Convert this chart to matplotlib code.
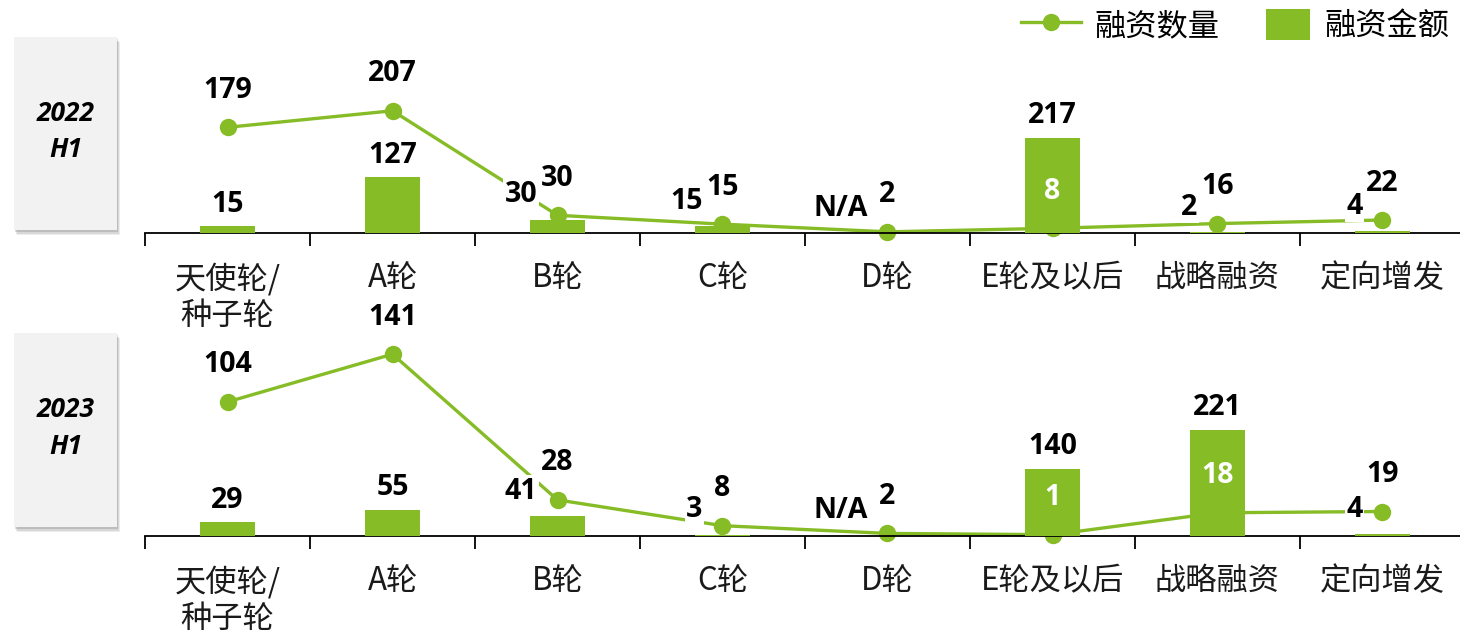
import numpy as np
import matplotlib
matplotlib.use('Agg')
import matplotlib.pyplot as plt
from matplotlib.lines import Line2D
from matplotlib.patches import Patch, Rectangle
from matplotlib.legend_handler import HandlerPatch

plt.rcParams['font.family'] = ['Noto Sans CJK SC', 'DejaVu Sans']

# --- 数据 ---
categories = ['天使轮/\n种子轮', 'A轮', 'B轮', 'C轮', 'D轮', 'E轮及以后', '战略融资', '定向增发']
periods = ['2022\nH1', '2023\nH1']
amount_2022 = [15, 127, 30, 15, np.nan, 217, 2, 4]     # 融资金额 (N/A = nan)
count_2022 = [179, 207, 30, 15, 2, 8, 16, 22]         # 融资数量
amount_2023 = [29, 55, 41, 3, np.nan, 140, 221, 4]
count_2023 = [104, 141, 28, 8, 2, 1, 18, 19]

# --- 样式/布局 ---
GREEN = '#86BC25'
NUM_FONT = ['Open Sans', 'DejaVu Sans']
NUM_SIZE = 20.5
bar_label_mode = [
    ['top', 'top', 'left', 'left', 'left', 'top', 'left', 'left'],
    ['top', 'top', 'left', 'left', 'left', 'top', 'top', 'left'],
]
# 每个面板: (底部, 高度, 金额轴上限, 数量轴上限) —— 图形坐标
panels = [
    (401 / 634, 173 / 634, 395, 293),
    (98 / 634, 196 / 634, 408, 152),
]
year_boxes = [(14, 37, 103, 193), (14, 333, 103, 194)]  # 像素: x, top, w, h

W, H = 1460, 634
fig = plt.figure(figsize=(W / 100, H / 100), dpi=100)

amounts = [amount_2022, amount_2023]
counts = [count_2022, count_2023]
x = np.arange(len(categories))

for p, (bottom, height, ymax_bar, ymax_line) in enumerate(panels):
    ax_l = fig.add_axes([145 / W, bottom, 1320 / W, height])
    ax_b = ax_l.twinx()

    ax_l.plot(x, counts[p], color=GREEN, lw=2.4, marker='o', ms=11.5,
              clip_on=False, zorder=2)
    amt = np.array(amounts[p], dtype=float)
    ax_b.bar(x, np.nan_to_num(amt), width=0.33, color=GREEN, zorder=2)

    for a in (ax_l, ax_b):
        a.set_xlim(-0.5, len(categories) - 0.5)
        for s in ('top', 'left', 'right'):
            a.spines[s].set_visible(False)
        a.set_yticks([])
        a.patch.set_visible(False)
    ax_l.set_ylim(0, ymax_line)
    ax_b.set_ylim(0, ymax_bar)
    ax_b.spines['bottom'].set_visible(False)
    ax_l.spines['bottom'].set_linewidth(1.3)
    ax_l.spines['bottom'].set_color('black')

    ax_l.set_xticks(x)
    ax_l.set_xticklabels(categories, fontsize=22.5, color='#1a1a1a', linespacing=1.2,
                         va='top')
    ax_l.tick_params(axis='x', which='major', length=0, pad=21)
    ax_l.set_xticks(np.arange(-0.5, len(categories)), minor=True)
    ax_l.tick_params(axis='x', which='minor', length=9, width=1.3, color='black',
                     direction='out')

    fig.canvas.draw()
    # 数值标签
    for i in range(len(categories)):
        # 数量标签 (折线)
        pt = ax_l.transData.transform((x[i], counts[p][i]))
        bar_top = ax_b.transData.transform((x[i], np.nan_to_num(amt[i])))[1]
        inside = (not np.isnan(amt[i])) and pt[1] + 37 < bar_top
        ax_b.annotate(str(counts[p][i]), xy=(x[i], counts[p][i]),
                      xycoords=ax_l.transData, xytext=(0, 37),
                      textcoords='offset pixels', ha='center', va='center',
                      fontsize=NUM_SIZE, fontweight='bold', family=NUM_FONT,
                      color='white' if inside else 'black', zorder=5,
                      annotation_clip=False)
        # 金额标签 (柱)
        txt = 'N/A' if np.isnan(amt[i]) else f'{int(amt[i])}'
        yv = np.nan_to_num(amt[i])
        if bar_label_mode[p][i] == 'top':
            ax_b.annotate(txt, xy=(x[i], yv), xytext=(0, 22),
                          textcoords='offset pixels', ha='center', va='center',
                          fontsize=NUM_SIZE, fontweight='bold', family=NUM_FONT,
                          color='black', zorder=5, annotation_clip=False)
        else:
            ax_b.annotate(txt, xy=(x[i], yv), xytext=(-20, 25),
                          textcoords='offset pixels', ha='right', va='center',
                          fontsize=NUM_SIZE, fontweight='bold', family=NUM_FONT,
                          color='black', zorder=5, annotation_clip=False,
                          bbox=dict(boxstyle='square,pad=0.05', fc='white',
                                    ec='none'))

# 左侧年份框 (带阴影)
for (bx, by, bw, bh), label in zip(year_boxes, periods):
    for k, al in enumerate([0.10, 0.14, 0.20]):
        off = 5 - k * 1.5
        fig.patches.append(Rectangle(((bx + off * 0.6) / W, (H - by - bh - off) / H),
                                     bw / W, bh / H, transform=fig.transFigure,
                                     fc='#555555', ec='none', alpha=al, zorder=0))
    fig.patches.append(Rectangle((bx / W, (H - by - bh) / H), bw / W, bh / H,
                                 transform=fig.transFigure, fc='#f2f2f2',
                                 ec='none', zorder=1))
    fig.text((bx + bw / 2) / W, (H - by - bh / 2 + 2) / H, label, ha='center',
             va='center', fontsize=19, fontweight='bold', style='italic',
             family=NUM_FONT, linespacing=1.45, zorder=2)


# 图例: 金额方块比折线手柄窄
def square_patch(legend, orig_handle, xdescent, ydescent, width, height, fontsize):
    w = width * 0.74
    return Rectangle((-xdescent + (width - w), -ydescent), w, height)


handles = [
    Line2D([], [], color=GREEN, lw=2.4, marker='o', ms=11.5),
    Patch(facecolor=GREEN, edgecolor='none'),
]
fig.legend(handles, ['融资数量', '融资金额'], loc='upper right',
           bbox_to_anchor=(1.012, 1.03), ncol=2, frameon=False, fontsize=22.5,
           handlelength=1.9, handleheight=1.15, handletextpad=0.45,
           columnspacing=1.0,
           handler_map={Patch: HandlerPatch(patch_func=square_patch)})

fig.savefig('out.png', dpi=100)
